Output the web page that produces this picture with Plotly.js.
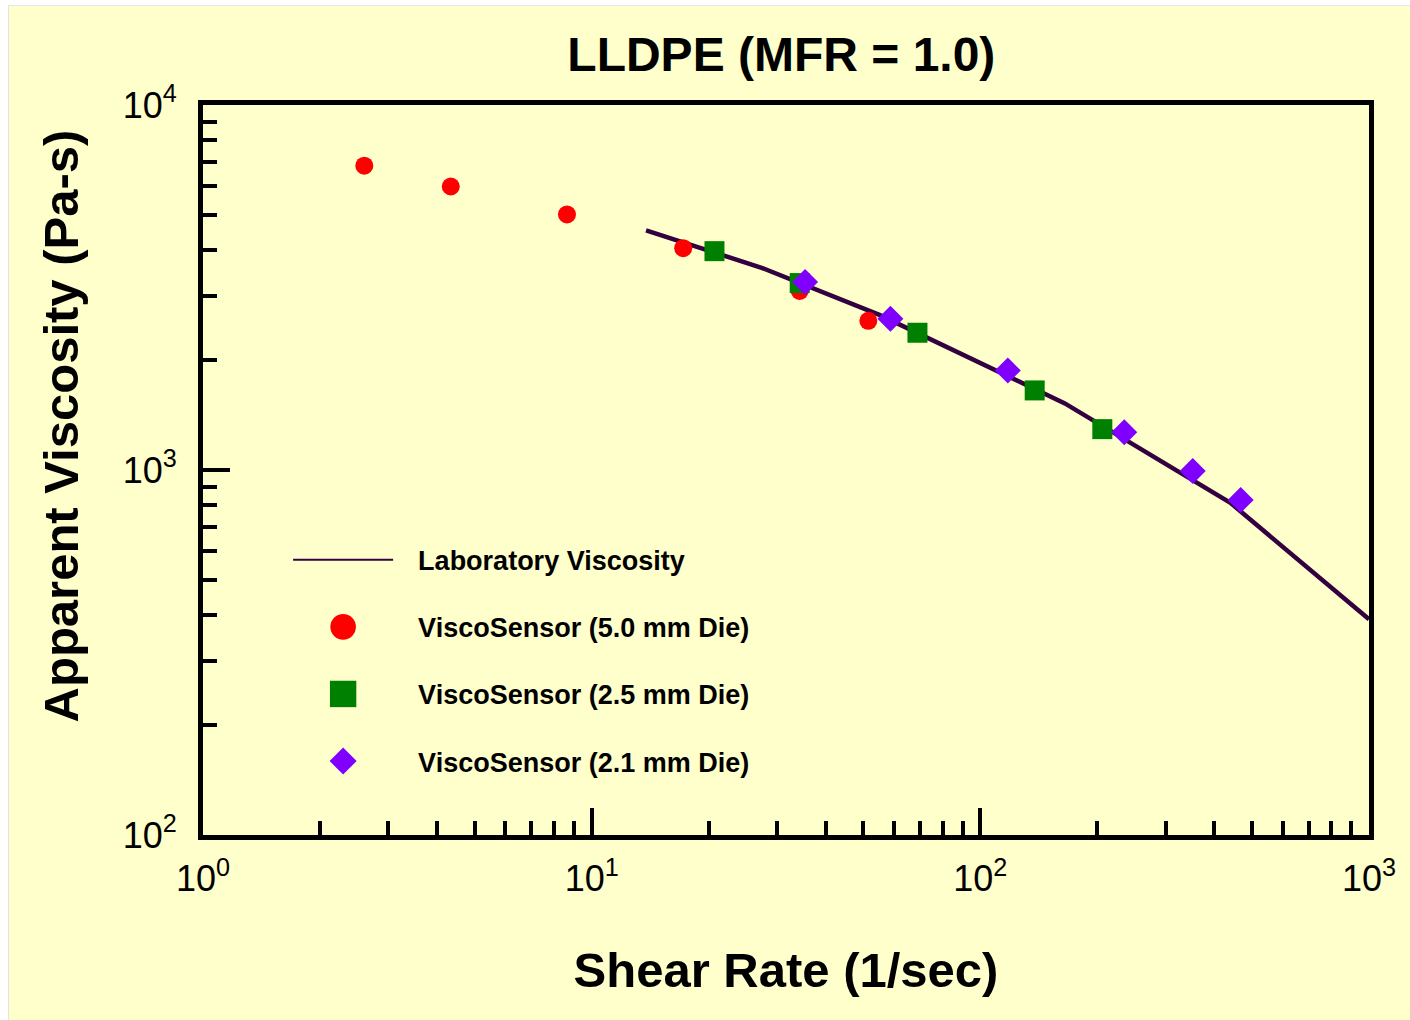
<!DOCTYPE html>
<html>
<head>
<meta charset="utf-8">
<script src="https://cdn.plot.ly/plotly-3.0.1.min.js"></script>
<style>
  html, body { margin: 0; padding: 0; background: #ffffff; }
  #chart { position: absolute; left: 8px; top: 5px; width: 1402px; height: 1015px; border-left: 1px solid #e4e4e4; border-top: 1px solid #e4e4e4; box-sizing: border-box; }
</style>
</head>
<body>
<div id="chart"></div>
<script>
// ---- Data ----
const labShear = [13.8, 27.5, 55, 110, 165, 440, 1000];
const labVisc  = [4537, 3574, 2661, 1873, 1522, 813, 390];

const die50Shear = [2.6, 4.34, 8.64, 17.2, 34.3, 51.5];
const die50Visc  = [6820, 5980, 5015, 4052, 3094, 2563];

const die25Shear = [20.7, 34.3, 68.9, 138, 206];
const die25Visc  = [3977, 3252, 2377, 1652, 1294];

const die21Shear = [35.4, 58.7, 117.7, 234.6, 352, 467.6];
const die21Visc  = [3273, 2595, 1873, 1269, 994, 828];

const xTickVals = [1, 10, 100, 1000];
const xTickText = ["10<sup>0</sup>", "10<sup>1</sup>", "10<sup>2</sup>", "10<sup>3</sup>"];
const xMinorVals = [2, 3, 4, 5, 6, 7, 8, 9, 20, 30, 40, 50, 60, 70, 80, 90, 200, 300, 400, 500, 600, 700, 800, 900];
const yTickVals = [100, 1000, 10000];
const yTickText = ["10<sup>2</sup>", "10<sup>3</sup>", "10<sup>4</sup>"];
const yMinorVals = [200, 300, 400, 500, 600, 700, 800, 900, 2000, 3000, 4000, 5000, 6000, 7000, 8000, 9000];

const seriesNames = ["Laboratory Viscosity", "ViscoSensor (5.0 mm Die)", "ViscoSensor (2.5 mm Die)", "ViscoSensor (2.1 mm Die)"];

const FONT = "Liberation Sans, Arial, Helvetica, sans-serif";
const BG = "#FFFFCC";

const traces = [
  { x: labShear, y: labVisc, name: seriesNames[0], type: "scatter", mode: "lines",
    line: { color: "#330040", width: 4.5 }, legendgroup: "g1" },
  { x: die50Shear, y: die50Visc, name: seriesNames[1], type: "scatter", mode: "markers",
    marker: { symbol: "circle", size: 18, color: "#FF0000" }, legendgroup: "g2" },
  { x: die25Shear, y: die25Visc, name: seriesNames[2], type: "scatter", mode: "markers",
    marker: { symbol: "square", size: 20, color: "#008000" }, legendgroup: "g3" },
  { x: die21Shear, y: die21Visc, name: seriesNames[3], type: "scatter", mode: "markers",
    marker: { symbol: "diamond", size: 20, color: "#8000FF" }, legendgroup: "g4" }
];

const axisCommon = {
  type: "log",
  tickmode: "array",
  showline: true, linecolor: "#000000", linewidth: 5, mirror: true,
  ticks: "inside", ticklen: 27, tickwidth: 4, tickcolor: "#000000",
  showgrid: false, zeroline: false,
  tickfont: { family: FONT, size: 36, color: "#000000" }
};

const layout = {
  width: 1402, height: 1015,
  paper_bgcolor: BG, plot_bgcolor: BG,
  margin: { l: 194, r: 42, t: 99, b: 186 },
  title: { text: "LLDPE (MFR = 1.0)", x: 0.496, xref: "paper", y: 0.953, yref: "container", yanchor: "middle",
           font: { family: FONT, size: 48, weight: 700, color: "#000000" } },
  xaxis: Object.assign({}, axisCommon, {
    range: [0, 3], tickvals: xTickVals, ticktext: xTickText,
    minor: { tickmode: "array", tickvals: xMinorVals, ticks: "inside", ticklen: 14, tickwidth: 4, tickcolor: "#000000", showgrid: false },
    ticklabelstandoff: 8,
    title: { text: "Shear Rate (1/sec)", standoff: 56, font: { family: FONT, size: 49, weight: 700, color: "#000000" } }
  }),
  yaxis: Object.assign({}, axisCommon, {
    range: [2, 4], tickvals: yTickVals, ticktext: yTickText,
    minor: { tickmode: "array", tickvals: yMinorVals, ticks: "inside", ticklen: 14, tickwidth: 4, tickcolor: "#000000", showgrid: false },
    ticklabelstandoff: 14
  }),
  annotations: [{
    text: "Apparent Viscosity (Pa-s)", textangle: -90, showarrow: false,
    xref: "paper", yref: "paper", x: -0.121, y: 0.561, xanchor: "center", yanchor: "middle",
    font: { family: FONT, size: 49, weight: 700, color: "#000000" }
  }],
  showlegend: true,
  legend: {
    x: 0.073, y: 0.41, xanchor: "left", yanchor: "top",
    bgcolor: "rgba(0,0,0,0)", borderwidth: 0,
    font: { family: FONT, size: 27, weight: 700, color: "#000000" },
    itemwidth: 100, tracegroupgap: 29, traceorder: "grouped"
  }
};

Plotly.newPlot("chart", traces, layout, { displayModeBar: false, staticPlot: true }).then(function (gd) {
  // legend symbol styling to match the reference legend
  gd.querySelectorAll(".legend .scrollbox, .legend").forEach(function (el) {
    el.removeAttribute("clip-path");
  });
  const scales = [1, 1.6, 1.65, 1.3];
  gd.querySelectorAll(".legend .traces").forEach(function (tr, i) {
    tr.querySelectorAll("path.scatterpts").forEach(function (p) {
      const t = p.getAttribute("transform") || "";
      p.setAttribute("transform", t + " scale(" + scales[i] + ")");
    });
    tr.querySelectorAll("path.js-line").forEach(function (p) {
      p.style.strokeWidth = "2px";
    });
    tr.querySelectorAll("text.legendtext").forEach(function (t) {
      const x = parseFloat(t.getAttribute("x") || "0");
      t.setAttribute("x", x + 20);
    });
  });
});
</script>
</body>
</html>
